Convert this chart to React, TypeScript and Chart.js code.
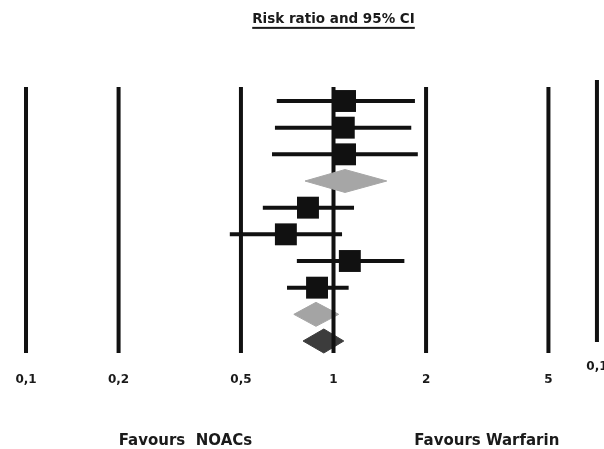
import React, { useEffect, useRef } from "react";
import { Chart, registerables } from "chart.js";

Chart.register(...registerables);

// Study rows (row index from top)
const studyRows = [1, 2, 3, 5, 6, 7, 8];
const studyEst = [1.09, 1.08, 1.09, 0.826, 0.70, 1.13, 0.884];
const studyLo = [0.654, 0.645, 0.631, 0.589, 0.46, 0.76, 0.706];
const studyHi = [1.84, 1.79, 1.88, 1.166, 1.066, 1.70, 1.12];

// Pooled diamonds
const diamondRows = [4, 9, 10];
const diamondEst = [1.09, 0.877, 0.93];
const diamondLo = [0.808, 0.743, 0.796];
const diamondHi = [1.49, 1.04, 1.08];
const diamondHalf = [0.43, 0.45, 0.45];
const diamondColors = ["#a6a6a6", "#a4a4a4", "#3c3c3c"];
const diamondOnTop = [true, false, false];

// Reference (vertical) lines and their tick labels
const refValues = [0.1, 0.2, 0.5, 1, 2, 5, 7.19];
const refLabels = ["0,1", "0,2", "0,5", "1", "2", "5", "0,1"];
const refTop = [0.475, 0.475, 0.475, 0.475, 0.475, 0.475, 0.213];
const refBottom = [10.45, 10.45, 10.45, 10.45, 10.45, 10.45, 10.04];
const refLabelRow = [11.57, 11.57, 11.57, 11.57, 11.57, 11.57, 11.09];

// Texts
const titleText = "Risk ratio and 95% CI";
const titleX = 1;
const titleRow = -1.93;
const favourTexts = ["Favours  NOACs", "Favours Warfarin"];
const favourX = [0.33, 3.15];
const favourRow = 13.9;

const X_MIN = 0.0823;
const X_MAX = 7.58;
const Y_MIN = -2.7875;
const Y_MAX = 14.05;

const FONT = "'DejaVu Sans', Verdana, sans-serif";

const textPlugin = {
  id: "forestText",
  afterDatasetsDraw(chart: any) {
    const ctx = chart.ctx;
    const xs = chart.scales.x;
    const ys = chart.scales.y;
    ctx.save();
    ctx.fillStyle = "#1a1a1a";
    ctx.textAlign = "center";
    ctx.textBaseline = "alphabetic";
    // tick labels
    ctx.font = `bold 12px ${FONT}`;
    refValues.forEach((v, i) => {
      ctx.fillText(refLabels[i], xs.getPixelForValue(v), ys.getPixelForValue(refLabelRow[i]));
    });
    // title
    ctx.font = `bold 13.5px ${FONT}`;
    const tx = xs.getPixelForValue(titleX);
    const ty = ys.getPixelForValue(titleRow);
    ctx.fillText(titleText, tx, ty);
    const w = ctx.measureText(titleText).width;
    ctx.fillRect(tx - w / 2, ty + 4, w, 2);
    // favours
    ctx.font = `bold 15px ${FONT}`;
    favourTexts.forEach((t, i) => {
      ctx.fillText(t, xs.getPixelForValue(favourX[i]), ys.getPixelForValue(favourRow));
    });
    ctx.restore();
  },
};

export default function App() {
  const ref = useRef<HTMLCanvasElement | null>(null);

  useEffect(() => {
    document.body.style.margin = "0";
    const canvas = ref.current;
    if (!canvas) return;

    const datasets: any[] = [];

    refValues.forEach((v, i) => {
      datasets.push({
        data: [
          { x: v, y: refTop[i] },
          { x: v, y: refBottom[i] },
        ],
        showLine: true,
        borderColor: "#111111",
        borderWidth: 4,
        pointRadius: 0,
        order: 3,
      });
    });

    studyRows.forEach((r, i) => {
      datasets.push({
        data: [
          { x: studyLo[i], y: r },
          { x: studyHi[i], y: r },
        ],
        showLine: true,
        borderColor: "#111111",
        borderWidth: 4,
        pointRadius: 0,
        order: 2,
      });
    });

    datasets.push({
      data: studyRows.map((r, i) => ({ x: studyEst[i], y: r })),
      pointStyle: "rect",
      pointRadius: 15.5,
      backgroundColor: "#111111",
      borderWidth: 0,
      showLine: false,
      order: 1,
    });

    diamondRows.forEach((r, i) => {
      const h = diamondHalf[i];
      datasets.push({
        data: [
          { x: diamondLo[i], y: r },
          { x: diamondEst[i], y: r - h },
          { x: diamondHi[i], y: r },
          { x: diamondEst[i], y: r + h },
          { x: diamondLo[i], y: r },
        ],
        showLine: true,
        fill: "shape",
        backgroundColor: diamondColors[i],
        borderColor: diamondColors[i],
        borderWidth: 1,
        pointRadius: 0,
        tension: 0,
        order: diamondOnTop[i] ? 0 : 4,
      });
    });

    const chart = new Chart(canvas, {
      type: "scatter",
      data: { datasets },
      options: {
        animation: false,
        responsive: false,
        layout: { padding: 0, autoPadding: false },
        plugins: {
          legend: { display: false },
          tooltip: { enabled: false },
          title: { display: false },
        },
        scales: {
          x: { type: "logarithmic", min: X_MIN, max: X_MAX, display: false },
          y: { type: "linear", min: Y_MIN, max: Y_MAX, reverse: true, display: false },
        },
      },
      plugins: [textPlugin],
    } as any);

    return () => chart.destroy();
  }, []);

  return (
    <div style={{ width: 604, height: 449, background: "#ffffff" }}>
      <canvas ref={ref} width={604} height={449} style={{ display: "block" }} />
    </div>
  );
}
